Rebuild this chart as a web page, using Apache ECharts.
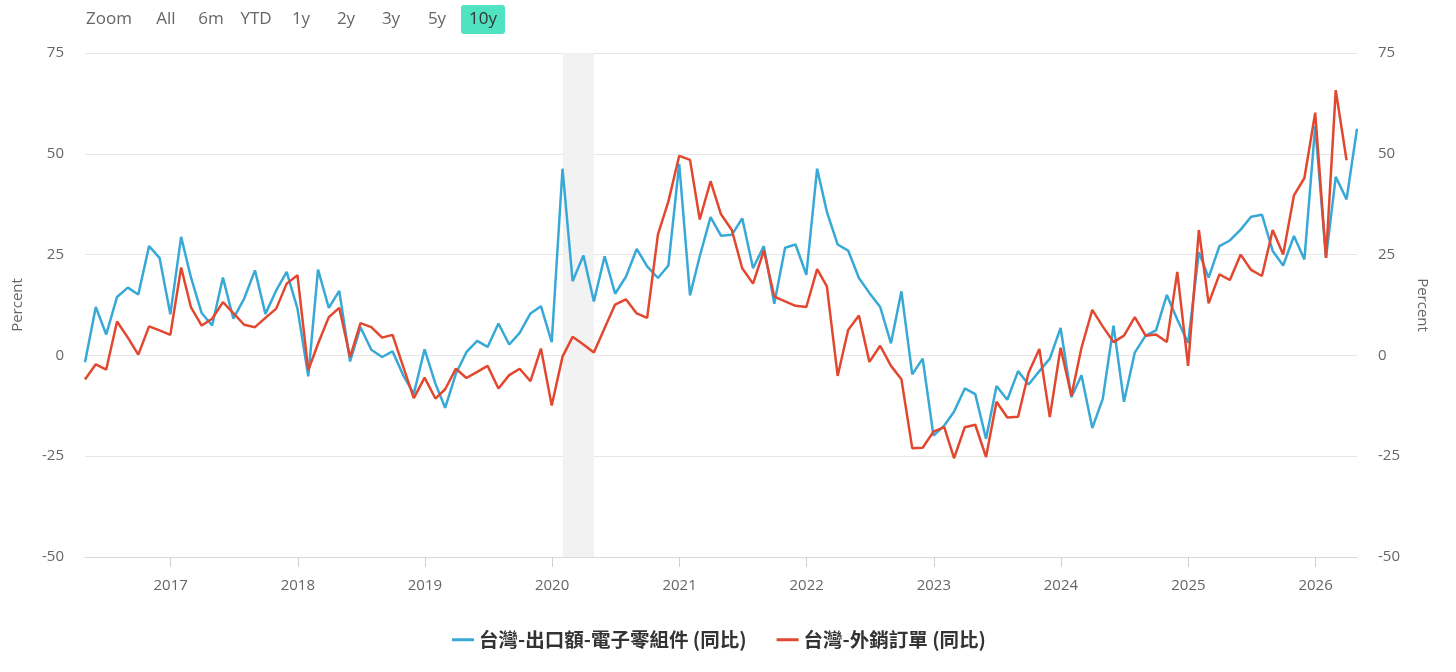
<!DOCTYPE html>
<html><head><meta charset="utf-8">
<script src="https://cdn.jsdelivr.net/npm/echarts@6/dist/echarts.min.js"></script>
<style>html,body{margin:0;padding:0;background:#fff}#c{width:1456px;height:672px}</style>
</head><body><div id="c"></div>
<script>
// First observation: April 2016 (plotted at month end), monthly
const startYear = 2016, startMonth = 4;
const seriesNames = ['台灣-出口額-電子零組件 (同比)', '台灣-外銷訂單 (同比)'];

// 台灣-出口額-電子零組件 (同比), Apr 2016 .. Apr 2026
const exportsElectronics = [
  -1.7, 12.0, 5.2, 14.5, 16.8, 15.1, 27.1, 24.2, 10.2,            // 2016 Apr-Dec
  29.4, 19.4, 10.5, 7.4, 19.3, 9.1, 14.1, 21.1, 10.3, 16.1, 20.7, 11.6,   // 2017
  -5.2, 21.3, 11.8, 16.0, -1.5, 7.0, 1.4, -0.4, 1.0, -5.0, -9.5, 1.5,     // 2018
  -7.0, -13.0, -4.5, 0.8, 3.6, 2.1, 7.9, 2.7, 5.6, 10.4, 12.2, 3.3,       // 2019
  46.3, 18.4, 24.8, 13.4, 24.6, 15.3, 19.5, 26.4, 22.1, 19.2, 22.3, 47.5, // 2020
  14.9, 24.6, 34.3, 29.7, 29.9, 34.0, 21.6, 27.1, 12.8, 26.7, 27.5, 20.0, // 2021
  46.3, 35.6, 27.5, 26.0, 19.2, 15.5, 12.0, 3.0, 15.9, -4.7, -0.8, -19.9, // 2022
  -17.4, -14.0, -8.2, -9.6, -20.7, -7.6, -11.0, -3.9, -7.2, -3.9, -0.8, 6.8, // 2023
  -10.4, -4.9, -18.0, -10.8, 7.4, -11.5, 0.7, 4.9, 6.2, 15.0, 8.9, 3.1,   // 2024
  25.6, 19.3, 27.1, 28.5, 31.2, 34.4, 34.9, 25.9, 22.3, 29.6, 23.8, 56.9, // 2025
  24.2, 44.3, 38.7, 56.2                                                  // 2026
];

// 台灣-外銷訂單 (同比), Apr 2016 .. Mar 2026
const exportOrders = [
  -6.0, -2.2, -3.5, 8.4, 4.4, 0.2, 7.2, 6.2, 5.1,                 // 2016 Apr-Dec
  21.8, 12.0, 7.4, 9.1, 13.2, 10.5, 7.6, 7.0, 9.3, 11.6, 17.8, 19.9,      // 2017
  -3.7, 2.9, 9.5, 11.8, -0.4, 8.0, 7.0, 4.4, 5.1, -2.9, -10.6, -5.5,      // 2018
  -10.7, -8.4, -3.3, -5.6, -4.1, -2.6, -8.2, -4.9, -3.3, -6.4, 1.7, -12.4, // 2019
  -0.3, 4.6, 2.7, 0.7, 6.8, 12.6, 13.9, 10.4, 9.3, 30.0, 38.2, 49.5,      // 2020
  48.5, 33.7, 43.2, 35.0, 31.1, 21.6, 17.8, 26.0, 14.6, 13.4, 12.3, 12.0, // 2021
  21.4, 17.1, -5.1, 6.3, 9.9, -1.6, 2.4, -2.6, -5.9, -23.0, -22.9, -18.9, // 2022
  -17.8, -25.5, -17.8, -17.2, -25.2, -11.5, -15.4, -15.2, -4.3, 1.6, -15.3, 1.9, // 2023
  -10.0, 1.9, 11.3, 7.2, 3.3, 4.9, 9.5, 4.9, 5.2, 3.3, 20.7, -2.6,        // 2024
  31.1, 12.9, 20.1, 18.7, 25.0, 21.2, 19.7, 31.1, 25.0, 39.7, 44.0, 60.2, // 2025
  24.2, 65.8, 48.4                                                        // 2026
];

const yMin = -50, yMax = 75, yStep = 25;
const rangeButtons = ['All', '6m', 'YTD', '1y', '2y', '3y', '5y', '10y'];
const selectedButton = '10y';
const recessionBand = ['2020-02-01', '2020-04-30'];

function monthEnd(i) { return new Date(startYear, startMonth + i, 0).getTime(); }
const blueData = exportsElectronics.map((v, i) => [monthEnd(i), v]);
const redData = exportOrders.map((v, i) => [monthEnd(i), v]);
const xMin = monthEnd(0), xMax = monthEnd(exportsElectronics.length - 1);
const YEAR = 365 * 24 * 3600 * 1000;

const latin = '"Open Sans","Noto Sans CJK TC",sans-serif';
const btnX = [166, 211, 256, 301, 346, 391, 437, 483];
const graphics = [{
  type: 'text', x: 86, y: 19,
  style: { text: 'Zoom', font: '17px ' + latin, fill: '#666', align: 'left', verticalAlign: 'middle' }
}];
rangeButtons.forEach((b, k) => {
  if (b === selectedButton) {
    graphics.push({ type: 'rect', shape: { x: btnX[k] - 22, y: 5, width: 44, height: 29, r: 3 }, style: { fill: '#4fe3c1' } });
  }
  graphics.push({
    type: 'text', x: btnX[k], y: 19,
    style: { text: b, font: '17px ' + latin, fill: b === selectedButton ? '#333' : '#666', align: 'center', verticalAlign: 'middle' }
  });
});

const yAxisBase = {
  type: 'value', min: yMin, max: yMax, interval: yStep,
  axisLine: { show: false }, axisTick: { show: false },
  axisLabel: { color: '#666', fontSize: 15, margin: 21, fontFamily: latin },
  name: 'Percent', nameLocation: 'middle',
  nameTextStyle: { color: '#666', fontSize: 15, fontFamily: latin }
};

const chart = echarts.init(document.getElementById('c'), null, { renderer: 'canvas' });
chart.setOption({
  animation: false,
  textStyle: { fontFamily: latin },
  graphic: graphics,
  grid: { left: 85, right: 99, top: 53, bottom: 115, containLabel: false },
  legend: {
    left: 447, top: 625, icon: 'rect', itemWidth: 22, itemHeight: 3, itemGap: 30,
    textStyle: { fontSize: 19.5, fontWeight: 'bold', color: '#333', fontFamily: '"Noto Sans CJK TC","Open Sans",sans-serif' },
    data: seriesNames
  },
  xAxis: {
    type: 'time', min: xMin, max: xMax, minInterval: YEAR, maxInterval: YEAR,
    axisLine: { show: true, onZero: false, lineStyle: { color: '#d9d9d9', width: 1 } },
    axisTick: { show: true, length: 10, lineStyle: { color: '#d0d0d0' } },
    splitLine: { show: false },
    axisLabel: {
      color: '#666', fontSize: 15, margin: 21, fontFamily: latin,
      showMinLabel: false, showMaxLabel: false,
      formatter: function (v) { const d = new Date(v); return (d.getMonth() === 0 && d.getDate() === 1) ? String(d.getFullYear()) : ''; }
    }
  },
  yAxis: [
    Object.assign({}, yAxisBase, { position: 'left', nameGap: 60, splitLine: { show: true, lineStyle: { color: '#e6e6e6' } } }),
    Object.assign({}, yAxisBase, { position: 'right', nameGap: 58, nameRotate: -90, splitLine: { show: false } })
  ],
  series: [
    {
      name: 'recession', type: 'line', data: [], z: 1, silent: true,
      markArea: { silent: true, itemStyle: { color: '#f2f2f2' }, data: [[{ xAxis: recessionBand[0] }, { xAxis: recessionBand[1] }]] }
    },
    { name: seriesNames[0], type: 'line', data: blueData, showSymbol: false, z: 3, color: '#38a9d6', lineStyle: { width: 2.5 } },
    { name: seriesNames[1], type: 'line', data: redData, showSymbol: false, z: 4, color: '#e2482f', lineStyle: { width: 2.5 } }
  ]
});
</script>
</body></html>
